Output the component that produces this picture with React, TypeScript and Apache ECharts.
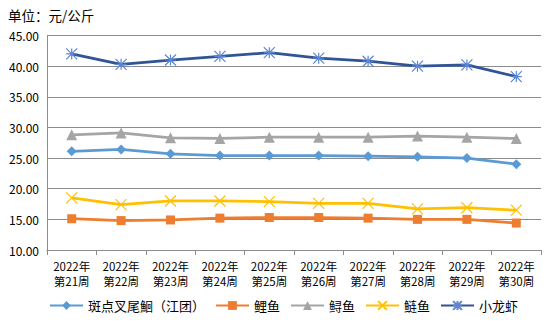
import React, { useEffect, useRef } from "react";
import * as echarts from "echarts";

const categories = ["2022年\n第21周", "2022年\n第22周", "2022年\n第23周", "2022年\n第24周", "2022年\n第25周", "2022年\n第26周", "2022年\n第27周", "2022年\n第28周", "2022年\n第29周", "2022年\n第30周"];
const catfish = [26.1, 26.4, 25.7, 25.4, 25.4, 25.4, 25.3, 25.2, 25.0, 24.0];
const carp = [15.1, 14.8, 14.9, 15.2, 15.3, 15.3, 15.2, 15.0, 15.0, 14.4];
const sturgeon = [28.8, 29.1, 28.3, 28.2, 28.4, 28.4, 28.4, 28.6, 28.4, 28.2];
const silverCarp = [18.5, 17.4, 18.0, 18.0, 17.9, 17.6, 17.6, 16.7, 16.9, 16.5];
const crayfish = [42.0, 40.3, 41.0, 41.6, 42.2, 41.3, 40.8, 40.0, 40.2, 38.3];
const seriesNames = ["斑点叉尾鮰（江团）", "鲤鱼", "鲟鱼", "鲢鱼", "小龙虾"];

const FONT = "'Noto Sans CJK SC', 'Noto Sans', sans-serif";

export default function App() {
  const ref = useRef<HTMLDivElement>(null);
  useEffect(() => {
    const chart = echarts.init(ref.current!, null, { renderer: "svg" });
    const lineSeries = (name: string, data: number[], color: string, symbol: string, size: number, extra: any = {}) => ({
      name,
      type: "line",
      data,
      symbol,
      symbolSize: size,
      lineStyle: { color, width: 2.75 },
      itemStyle: { color, ...(extra.itemStyle || {}) },
      emphasis: { disabled: true },
      z: extra.z || 2,
    });
    chart.setOption({
      animation: false,
      textStyle: { fontFamily: FONT },
      graphic: [
        { type: "rect", shape: { x: 0.5, y: 0.5, width: 548, height: 320 }, style: { fill: "none", stroke: "#8c8c8c", lineWidth: 1 } },
        { type: "text", left: 8, top: 8, style: { text: "单位：元/公斤", font: `13.5px ${FONT}`, fill: "#000" } },
      ],
      grid: { left: 47, right: 9, top: 35.5, bottom: 72, containLabel: false },
      legend: {
        bottom: 5,
        left: 44,
        itemWidth: 33,
        itemHeight: 11,
        itemGap: 10,
        textStyle: { fontSize: 13, color: "#000", fontFamily: FONT },
        data: seriesNames,
      },
      xAxis: {
        type: "category",
        data: categories,
        boundaryGap: true,
        axisLine: { lineStyle: { color: "#8c8c8c" } },
        axisTick: { show: true, length: 5, lineStyle: { color: "#8c8c8c" } },
        axisLabel: { fontSize: 11.5, color: "#000", lineHeight: 15, margin: 8, interval: 0 },
      },
      yAxis: {
        type: "value",
        min: 10,
        max: 45,
        interval: 5,
        axisLine: { show: true, lineStyle: { color: "#8c8c8c" } },
        axisTick: { show: false },
        splitLine: { lineStyle: { color: "#8c8c8c" } },
        axisLabel: { fontSize: 12, color: "#000", margin: 8, formatter: (v: number) => v.toFixed(2) },
      },
      series: [
        lineSeries(seriesNames[0], catfish, "#5B9BD5", "diamond", 10),
        lineSeries(seriesNames[1], carp, "#ED7D31", "rect", 9),
        lineSeries(seriesNames[2], sturgeon, "#A5A5A5", "triangle", 11),
        lineSeries(seriesNames[3], silverCarp, "#FFC000", "path://M0,0 L10,10 M10,0 L0,10", 11, {
          itemStyle: { borderColor: "#FFC000", borderWidth: 1.2 },
        }),
        lineSeries(seriesNames[4], crayfish, "#2F5597", "path://M5,0 L5,10 M0,0 L10,10 M10,0 L0,10 M0,5 L10,5", 11, {
          itemStyle: { borderColor: "#5B85D6", borderWidth: 1.2, color: "#5B85D6" },
        }),
      ],
    });
    return () => chart.dispose();
  }, []);
  return <div ref={ref} style={{ width: 550, height: 322, margin: -8 }} />;
}
